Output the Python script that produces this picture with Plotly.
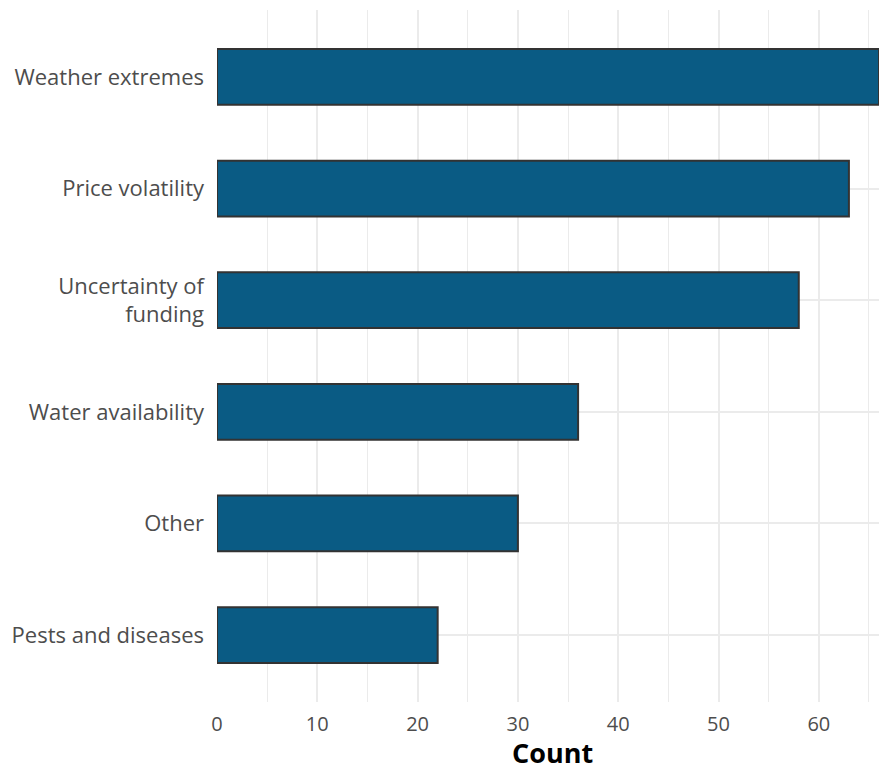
import plotly.graph_objects as go

categories = ["Pests and diseases", "Other", "Water availability",
              "Uncertainty of<br>funding", "Price volatility", "Weather extremes"]
counts = [22, 30, 36, 58, 63, 66]
x_ticks = [0, 10, 20, 30, 40, 50, 60]

fig = go.Figure(go.Bar(
    x=counts, y=categories, orientation="h", width=0.5,
    marker=dict(color="#0a5b84", line=dict(color="#333333", width=2)),
))

fig.update_layout(
    width=879, height=767, autosize=False,
    margin=dict(l=217, r=0, t=10, b=65),
    paper_bgcolor="white", plot_bgcolor="white",
    font=dict(family="Open Sans", size=22, color="#4d4d4d"),
    showlegend=False,
    annotations=[dict(
        text="<b>Count</b>", xref="paper", yref="paper", x=0.507, y=-0.073,
        xanchor="center", yanchor="middle", showarrow=False,
        font=dict(family="Open Sans", size=27, color="black"),
    )],
)
fig.update_xaxes(
    range=[0, 66], tickvals=x_ticks, showgrid=True, gridcolor="#ebebeb", gridwidth=2,
    minor=dict(dtick=5, showgrid=True, gridcolor="#ebebeb", gridwidth=1.2),
    zeroline=False, showline=False, ticks="outside", ticklen=4,
    tickcolor="rgba(0,0,0,0)",
    tickfont=dict(family="Open Sans", size=20, color="#4d4d4d"),
)
fig.update_yaxes(
    type="category", categoryorder="array", categoryarray=categories,
    range=[-0.6, 5.6], showgrid=True, gridcolor="#ebebeb", gridwidth=2,
    zeroline=False, showline=False, ticks="", ticklabelstandoff=12,
    tickfont=dict(family="Open Sans", size=22, color="#4d4d4d"),
)

post = ("document.body.style.margin='0';document.body.style.overflow='hidden';"
        "Plotly.relayout(document.getElementById('{plot_id}'), {width: 879, height: 767});")
fig.write_html("out.html", post_script=post,
               config={"responsive": False, "displayModeBar": False})
